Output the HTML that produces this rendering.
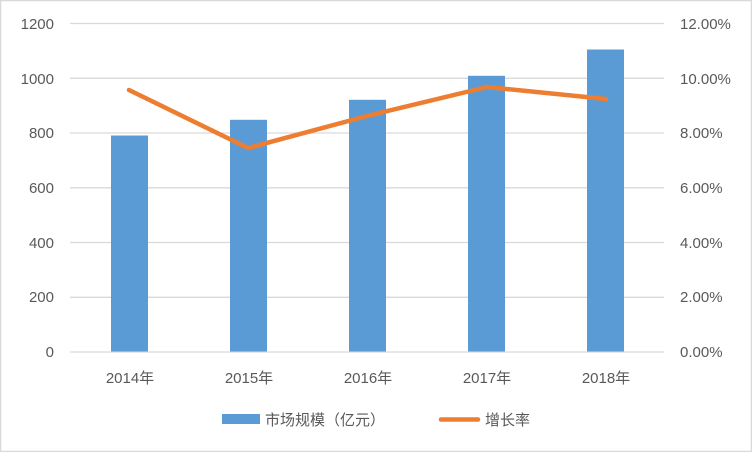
<!DOCTYPE html>
<html><head><meta charset="utf-8"><style>
html,body{margin:0;padding:0;background:#fff}
svg{display:block}
text{font-family:"Liberation Sans","Noto Sans CJK SC",sans-serif;fill:#595959;font-size:15px}
</style></head><body>
<svg width="752" height="452" viewBox="0 0 752 452">
<rect x="0.5" y="0.5" width="751" height="451" fill="#fff" stroke="#d9d9d9" stroke-width="1.5"/>
<g stroke="#d9d9d9" stroke-width="1.3">
<line x1="70" x2="664" y1="23.5" y2="23.5"/>
<line x1="70" x2="664" y1="78.3" y2="78.3"/>
<line x1="70" x2="664" y1="133" y2="133"/>
<line x1="70" x2="664" y1="187.8" y2="187.8"/>
<line x1="70" x2="664" y1="242.5" y2="242.5"/>
<line x1="70" x2="664" y1="297.3" y2="297.3"/>
<line x1="70" x2="664" y1="352" y2="352"/>
</g>
<g fill="#5b9bd5">
<rect x="111" y="135.5" width="37" height="216"/>
<rect x="230" y="119.8" width="37" height="231.7"/>
<rect x="349" y="99.8" width="37" height="251.7"/>
<rect x="468" y="75.8" width="37" height="275.7"/>
<rect x="587" y="49.5" width="37" height="302"/>
</g>
<polyline points="129,90 248,148 367,116 487,87 606,99" fill="none" stroke="#ed7d31" stroke-width="4.5" stroke-linejoin="round" stroke-linecap="round"/>
<g text-anchor="end">
<text x="54" y="29">1200</text>
<text x="54" y="84">1000</text>
<text x="54" y="138">800</text>
<text x="54" y="193">600</text>
<text x="54" y="248">400</text>
<text x="54" y="302">200</text>
<text x="54" y="357">0</text>
</g>
<g text-anchor="start">
<text x="680" y="29">12.00%</text>
<text x="680" y="84">10.00%</text>
<text x="680" y="138">8.00%</text>
<text x="680" y="193">6.00%</text>
<text x="680" y="248">4.00%</text>
<text x="680" y="302">2.00%</text>
<text x="680" y="357">0.00%</text>
</g>
<g text-anchor="middle">
<text x="130" y="383">2014年</text>
<text x="249" y="383">2015年</text>
<text x="368" y="383">2016年</text>
<text x="487" y="383">2017年</text>
<text x="606" y="383">2018年</text>
</g>
<rect x="222" y="414" width="38" height="10" fill="#5b9bd5"/>
<text x="265" y="425">市场规模（亿元）</text>
<line x1="441" x2="478" y1="419.5" y2="419.5" stroke="#ed7d31" stroke-width="4.5" stroke-linecap="round"/>
<text x="485" y="425">增长率</text>
</svg>
</body></html>
